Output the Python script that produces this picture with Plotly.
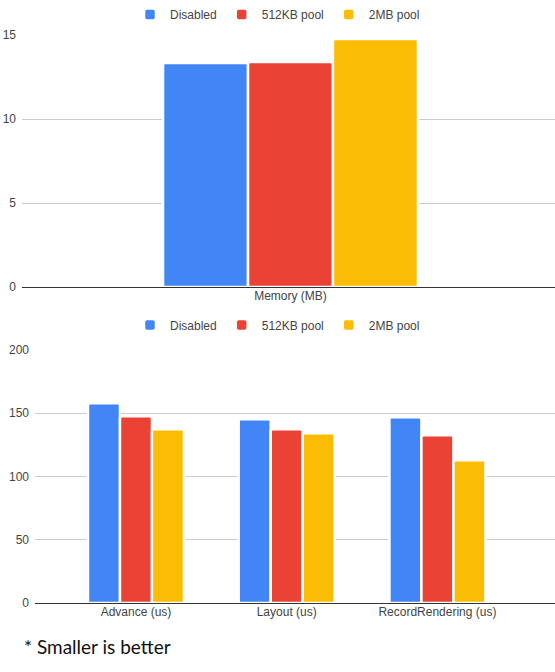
import plotly.graph_objects as go

series = ["Disabled", "512KB pool", "2MB pool"]
colors = ["#4285F4", "#EA4335", "#FBBC04"]

mem_categories = ["Memory (MB)"]
mem_values = {
    "Disabled": [13.33],
    "512KB pool": [13.39],
    "2MB pool": [14.76],
}

time_categories = ["Advance (us)", "Layout (us)", "RecordRendering (us)"]
time_values = {
    "Disabled": [158, 145.3, 146.8],
    "512KB pool": [147.6, 137.3, 132.6],
    "2MB pool": [137.3, 134.2, 112.8],
}

W, H = 555, 672
fig = go.Figure()

for name, col in zip(series, colors):
    fig.add_trace(go.Bar(
        x=mem_categories, y=mem_values[name], name=name,
        marker=dict(color=col, line=dict(color="white", width=2.5)),
        xaxis="x", yaxis="y", legend="legend",
    ))
for name, col in zip(series, colors):
    fig.add_trace(go.Bar(
        x=time_categories, y=time_values[name], name=name,
        marker=dict(color=col, line=dict(color="white", width=2.5)),
        xaxis="x2", yaxis="y2", legend="legend2",
    ))

font = dict(family="Liberation Sans, Arial, sans-serif", size=12, color="#444444")

def py(p):
    return 1 - p / H

axis_common = dict(showgrid=False, showline=False, ticks="", automargin=False,
                   tickfont=font, fixedrange=True)
yaxis_common = dict(showgrid=True, gridcolor="#cccccc", gridwidth=1, zeroline=True,
                    zerolinecolor="#333333", zerolinewidth=1.3, ticks="",
                    ticklabelstandoff=5,
                    automargin=False, tickfont=font, showline=False)

legend_common = dict(orientation="h", x=0.5, xanchor="center",
                     font=font, bgcolor="rgba(0,0,0,0)", itemclick=False)

fig.update_layout(
    width=W, height=H,
    margin=dict(l=0, r=0, t=0, b=0),
    paper_bgcolor="white", plot_bgcolor="white",
    barmode="group", bargap=0.363, bargroupgap=0.0,
    barcornerradius=2,
    font=font,
    xaxis=dict(domain=[22 / W, 1], anchor="y", range=[-0.671, 0.661], **axis_common),
    yaxis=dict(domain=[py(287), py(35)], anchor="x", range=[0, 15], dtick=5, **yaxis_common),
    xaxis2=dict(domain=[35 / W, 1], anchor="y2", range=[-0.67, 2.78], **axis_common),
    yaxis2=dict(domain=[py(603), py(350)], anchor="x2", range=[0, 200], dtick=50, **yaxis_common),
    legend=dict(y=1.0, yanchor="top", **legend_common),
    legend2=dict(y=py(325), yanchor="middle", **legend_common),
    showlegend=True,
    annotations=[dict(
        text="* Smaller is better", x=22 / W, y=py(646), xref="paper", yref="paper",
        xanchor="left", yanchor="middle", showarrow=False,
        font=dict(family="Lato, Noto Sans, sans-serif", size=19, color="#111111"),
    )],
)

fig.write_html(
    "out.html",
    config={"displayModeBar": False},
    post_script="document.body.style.margin='0';document.body.style.overflow='hidden';",
)
